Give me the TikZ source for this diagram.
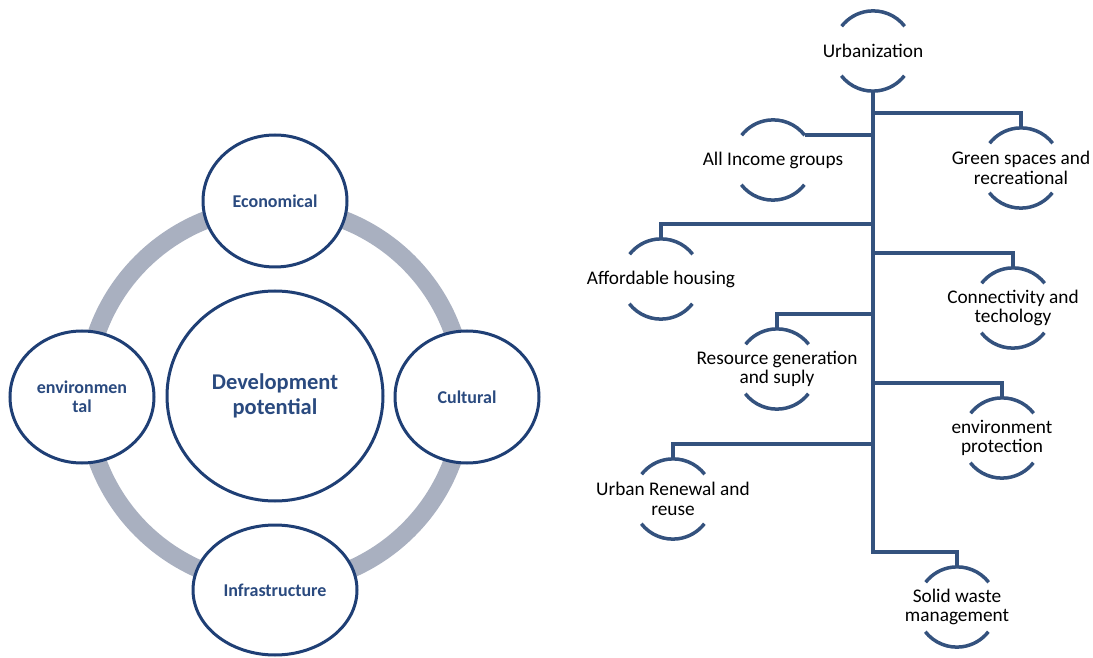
\documentclass[tikz,border=0pt]{standalone}
\usepackage{fontspec}
\setmainfont{Carlito}
\usepackage{tikz}
\usetikzlibrary{shapes.geometric,positioning}
\definecolor{navy}{HTML}{1F3F75}
\definecolor{navytext}{HTML}{2A4A7F}
\definecolor{ringgray}{HTML}{A9B0C0}
\definecolor{treeblue}{HTML}{34527E}
\tikzstyle{bubble} = [ellipse, draw=navy, line width=3pt, fill=white, text=navytext,
    font=\bfseries\fontsize{18}{19.5}\selectfont, align=center, inner sep=0pt,
    minimum width=144pt, minimum height=132pt]
\tikzstyle{topic} = [circle, minimum size=80pt, inner sep=0pt]
\tikzstyle{lbl} = [font=\fontsize{19.3}{19.5}\selectfont, align=center]
\tikzstyle{tree} = [draw=treeblue, line width=4pt]
\tikzstyle{rim} = [draw=treeblue, line width=3.5pt]

\begin{document}
\begin{tikzpicture}[x=1pt,y=1pt]
\useasboundingbox (0,0) rectangle (1093,657);

% Left chart
\node[bubble, minimum width=216pt, minimum height=210pt,
      font=\bfseries\fontsize{22.5}{25}\selectfont] (dev) at (275,261) {Development\\potential};
\draw[ringgray, line width=18pt] (dev.center) circle[radius=189];
\node[bubble] (eco) at (275,456) {Economical};
\node[bubble] (envl) at (82,260) {environmen\\tal};
\node[bubble] (cul) at (467,260) {Cultural};
\node[bubble, minimum width=164pt, minimum height=130pt] (inf) at (275,67) {Infrastructure};

% Right chart
\node[topic, label={[lbl]center:Urbanization}] (urb) at (873,606) {};
\node[topic, label={[lbl]center:All Income groups}] (inc) at (773,497) {};
\node[topic, label={[lbl]center:{Green spaces and\\recreational}}] (grn) at (1021,489) {};
\node[topic, label={[lbl]center:Affordable housing}] (aff) at (661,378) {};
\node[topic, label={[lbl]center:{Connectivity and\\techology}}] (con) at (1013,349) {};
\node[topic, label={[lbl]center:{Resource generation\\and suply}}] (res) at (777,288) {};
\node[topic, label={[lbl]center:{environment\\protection}}] (env) at (1002,219) {};
\node[topic, label={[lbl]center:{Urban Renewal and\\reuse}}] (ren) at (673,158) {};
\node[topic, label={[lbl]center:{Solid waste\\management}}] (sol) at (957,50) {};

% Arcs above and below each topic
\foreach \n in {urb,inc,grn,aff,con,res,env,ren,sol}{
  \draw[rim] (\n.38) arc[start angle=38, end angle=142, radius=40];
  \draw[rim] (\n.218) arc[start angle=218, end angle=322, radius=40];
}

% Branches
\draw[tree] (urb.south) |- ([yshift=15pt]sol.north) -- (sol.north);
\draw[tree] (urb.south) |- (inc.38);
\draw[tree] (urb.south) |- ([yshift=15pt]grn.north) -- (grn.north);
\draw[tree] (urb.south) |- ([yshift=15pt]aff.north) -- (aff.north);
\draw[tree] (urb.south) |- ([yshift=15pt]con.north) -- (con.north);
\draw[tree] (urb.south) |- ([yshift=15pt]res.north) -- (res.north);
\draw[tree] (urb.south) |- ([yshift=15pt]env.north) -- (env.north);
\draw[tree] (urb.south) |- ([yshift=15pt]ren.north) -- (ren.north);

\end{tikzpicture}
\end{document}
